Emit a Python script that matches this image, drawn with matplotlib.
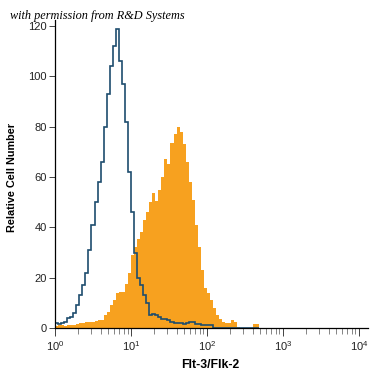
import numpy as np
import matplotlib
matplotlib.use('Agg')
import matplotlib.pyplot as plt

# histogram counts, bins equally spaced in log10 (width 0.04 decades, starting at 10^0)
bin_width = 0.04
isotype = [2, 1.5, 1.8, 2.5, 4, 4.5, 6, 9, 13, 17,
           22, 31, 41, 50, 58, 66, 80, 93, 104, 112,
           119, 106, 97, 82, 62, 46, 30, 20, 17, 13,
           10, 5, 5.5, 5, 4.5, 3.5, 3.5, 3, 2.5, 2,
           2, 2, 1.5, 2, 2.5, 2.5, 1.6, 1.6, 1, 1.2,
           1.2, 1.2, 0, 0, 0, 0, 0, 0, 0, 0,
           0, 0, 0, 0, 0, 0, 0]
stained = [0.8, 1, 1, 0.8, 1, 1.2, 1, 1.5, 2, 2,
           2.2, 2.4, 2.4, 2.8, 3, 3, 5, 6.5, 9, 11,
           14, 14.5, 14.5, 17.5, 22, 29, 32, 35.5, 38, 43,
           46, 50, 53.5, 50.5, 55, 60, 67, 65, 73.5, 77,
           80, 78, 73, 66, 58, 51, 41, 32, 23, 16,
           14, 11, 8, 5, 3.5, 2.5, 2, 2, 3, 2.5,
           0.5, 0, 0, 0, 0, 1.5, 1.5]
edges = 10 ** (np.arange(len(stained) + 1) * bin_width)

yticks = [0, 20, 40, 60, 80, 100, 120]
xticks = [1, 10, 100, 1000, 10000]

fig = plt.figure(figsize=(3.75, 3.75), dpi=100)
ax = fig.add_axes([0.1467, 0.1253, 0.8347, 0.8213])

ax.stairs(stained, edges, fill=True, color='#F7A11F', linewidth=0)
ax.stairs(isotype, edges, color='#1E4D6E', linewidth=1.2)

ax.set_xscale('log')
ax.set_xlim(1, 10 ** 4.12)
ax.set_ylim(0, 122.4)
ax.set_xticks(xticks)
ax.set_yticks(yticks)

for s in ['top', 'right']:
    ax.spines[s].set_visible(False)
for s in ['left', 'bottom']:
    ax.spines[s].set_linewidth(0.9)

lab_font = 'Liberation Sans'
ax.tick_params(axis='y', length=4, width=0.6, pad=2, labelsize=8, colors='#222222')
ax.tick_params(axis='x', which='major', length=6, width=0.6, pad=2, labelsize=8, colors='#222222')
ax.tick_params(axis='x', which='minor', length=4, width=0.5, colors='#555555')
for lbl in ax.get_xticklabels() + ax.get_yticklabels():
    lbl.set_family(lab_font)

fig.text(12 / 375, 1 - 178 / 375, 'Relative Cell Number', rotation=90,
         ha='center', va='center', fontsize=7.8, fontweight='bold', family=lab_font)
fig.text(210 / 375, 1 - 365 / 375, 'Flt-3/Flk-2', ha='center', va='center',
         fontsize=8.8, fontweight='bold', family=lab_font)
fig.text(10 / 375, 1 - 16 / 375, 'with permission from R&D Systems', ha='left', va='center',
         fontsize=8.8, style='italic', family=['Liberation Serif', 'DejaVu Serif'])

plt.savefig('out.png', dpi=100)
